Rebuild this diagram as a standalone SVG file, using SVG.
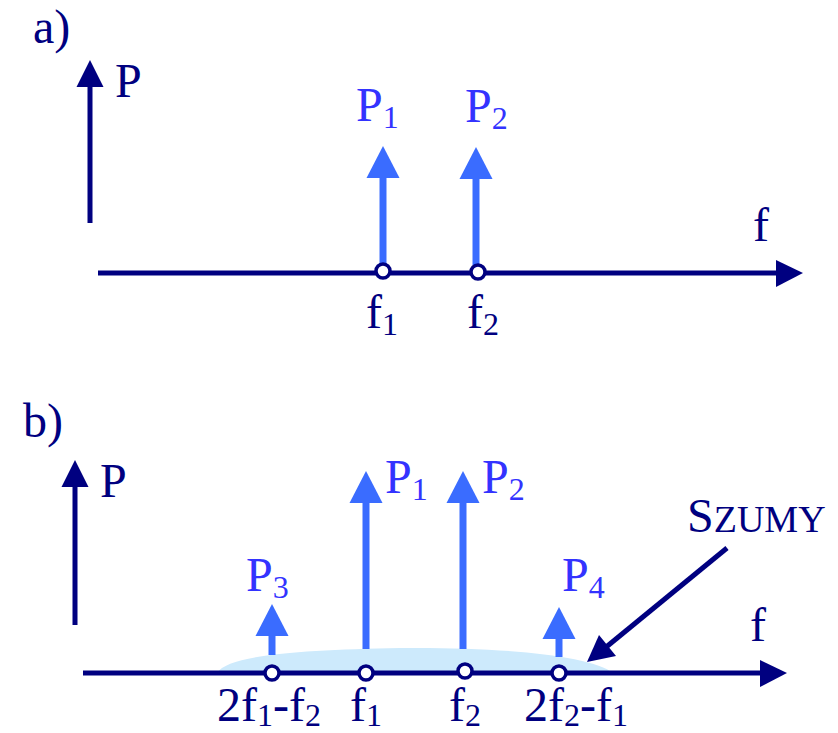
<svg xmlns="http://www.w3.org/2000/svg" width="838" height="733" viewBox="0 0 838 733" font-family="Liberation Serif, Times New Roman, serif">
<defs>
<polygon id="headN" points="0,0 -13.5,27 13.5,27" fill="#000080"/>
<polygon id="headB" points="0,0 -16.5,32 16.5,32" fill="#3a6cff"/>
<circle id="pt" r="7" fill="#fff" stroke="#000080" stroke-width="3.5"/>
</defs>
<rect width="838" height="733" fill="#fff"/>
<g id="panel-a">
<text font-family="Times New Roman" font-size="48" fill="#000080" x="33" y="43">a)</text>
<g id="a-axes">
<line stroke="#000080" stroke-width="5" x1="90" y1="223" x2="90" y2="84"/>
<use href="#headN" x="90" y="60"/>
<text font-family="Times New Roman" font-size="48" fill="#000080" x="115" y="97">P</text>
<line stroke="#000080" stroke-width="5" x1="98" y1="273" x2="779" y2="273"/>
<polygon fill="#000080" points="803,273 776,260 776,287"/>
<text font-family="Times New Roman" font-size="48" fill="#000080" x="753" y="241">f</text>
</g>
<g id="a-P1">
<line stroke="#3a6cff" stroke-width="7" x1="383" y1="265" x2="383" y2="174"/>
<use href="#headB" x="383" y="146"/>
<use href="#pt" x="383" y="271"/>
<text font-family="Times New Roman" font-size="48" fill="#3333ff" x="356" y="121">P<tspan font-size="32" dy="7">1</tspan></text>
<text font-family="Times New Roman" font-size="48" fill="#000080" x="366" y="328">f<tspan font-size="32" dy="7">1</tspan></text>
</g>
<g id="a-P2">
<line stroke="#3a6cff" stroke-width="7" x1="476" y1="265" x2="476" y2="175"/>
<use href="#headB" x="476" y="147"/>
<use href="#pt" x="478" y="272"/>
<text font-family="Times New Roman" font-size="48" fill="#3333ff" x="465" y="122">P<tspan font-size="32" dy="7">2</tspan></text>
<text font-family="Times New Roman" font-size="48" fill="#000080" x="467" y="328">f<tspan font-size="32" dy="7">2</tspan></text>
</g>
</g>
<g id="panel-b">
<text font-family="Times New Roman" font-size="48" fill="#000080" x="23" y="437">b)</text>
<g id="b-noise">
<path d="M217,673 C228,655 300,650 400,648 C500,647 590,655 613,673 Z" fill="#cdeafc"/>
</g>
<g id="b-axes">
<line stroke="#000080" stroke-width="5" x1="75" y1="625" x2="75" y2="484"/>
<use href="#headN" x="75" y="460"/>
<text font-family="Times New Roman" font-size="48" fill="#000080" x="100" y="497">P</text>
<line stroke="#000080" stroke-width="5" x1="83" y1="673" x2="763" y2="673"/>
<polygon fill="#000080" points="787,673 760,660 760,687"/>
<text font-family="Times New Roman" font-size="48" fill="#000080" x="750" y="641">f</text>
</g>
<g id="b-P3">
<line stroke="#3a6cff" stroke-width="7" x1="272" y1="655" x2="272" y2="633"/>
<use href="#headB" x="272" y="604"/>
<use href="#pt" x="272" y="673"/>
<text font-family="Times New Roman" font-size="48" fill="#3333ff" x="246" y="591">P<tspan font-size="32" dy="7">3</tspan></text>
<text font-family="Times New Roman" font-size="48" fill="#000080" x="217" y="721">2f<tspan font-size="32" dy="5">1</tspan><tspan dy="-5">-f</tspan><tspan font-size="32" dy="5">2</tspan></text>
</g>
<g id="b-P1">
<line stroke="#3a6cff" stroke-width="7" x1="366" y1="649" x2="366" y2="500"/>
<use href="#headB" x="366" y="471"/>
<use href="#pt" x="366" y="673"/>
<text font-family="Times New Roman" font-size="48" fill="#3333ff" x="385" y="493">P<tspan font-size="32" dy="7">1</tspan></text>
<text font-family="Times New Roman" font-size="48" fill="#000080" x="350" y="721">f<tspan font-size="32" dy="5">1</tspan></text>
</g>
<g id="b-P2">
<line stroke="#3a6cff" stroke-width="7" x1="463" y1="649" x2="463" y2="500"/>
<use href="#headB" x="463" y="471"/>
<use href="#pt" x="465" y="671"/>
<text font-family="Times New Roman" font-size="48" fill="#3333ff" x="482" y="493">P<tspan font-size="32" dy="7">2</tspan></text>
<text font-family="Times New Roman" font-size="48" fill="#000080" x="449" y="721">f<tspan font-size="32" dy="5">2</tspan></text>
</g>
<g id="b-P4">
<line stroke="#3a6cff" stroke-width="7" x1="559" y1="657" x2="559" y2="636"/>
<use href="#headB" x="559" y="607"/>
<use href="#pt" x="559" y="673"/>
<text font-family="Times New Roman" font-size="48" fill="#3333ff" x="562" y="591">P<tspan font-size="32" dy="7">4</tspan></text>
<text font-family="Times New Roman" font-size="48" fill="#000080" x="524" y="721">2f<tspan font-size="32" dy="5">2</tspan><tspan dy="-5">-f</tspan><tspan font-size="32" dy="5">1</tspan></text>
</g>
<g id="b-szumy">
<text font-family="Times New Roman" font-size="48" fill="#000080" x="687" y="532">S<tspan font-size="38">ZUMY</tspan></text>
</g>
<g id="connectors">
<line stroke="#000080" stroke-width="5" x1="727" y1="548" x2="605" y2="648"/>
<polygon fill="#000080" points="587,662 599,635 616,656"/>
</g>
</g>
</svg>
